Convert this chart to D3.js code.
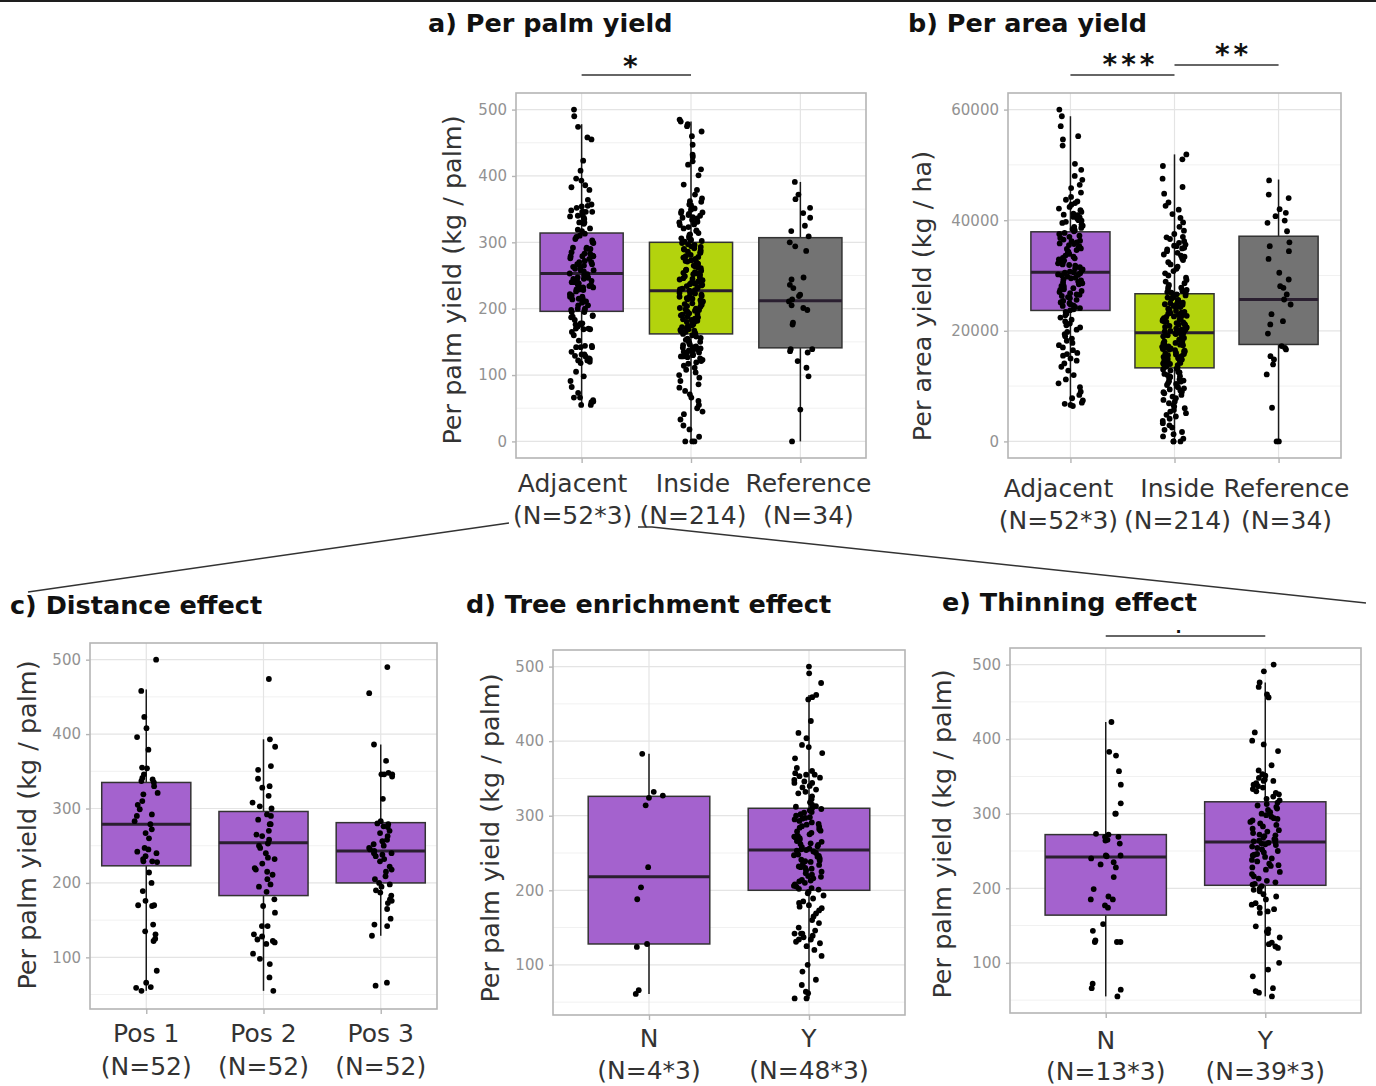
<!DOCTYPE html>
<html>
<head>
<meta charset="utf-8">
<script src="https://cdn.jsdelivr.net/npm/d3@7"></script>
<style>
  html, body { margin: 0; padding: 0; background: #fff; }
  svg { display: block; font-family: "DejaVu Sans", Verdana, sans-serif; }
</style>
</head>
<body>
<script>
// ---------------- DATA ----------------
// Panel c: Adjacent palms split by position (kg / palm)
const pos1 = [500,458,423,408,396,379,355,354,346,341,339,337,335,330,321,319,310,305,299,292,290,283,279,272,267,260,247,245,242,240,236,232,229,229,228,214,200,189,176,170,170,169,144,135,131,125,122,82,66,60,59,55];
const pos2 = [474,393,383,357,352,340,330,328,317,308,303,300,292,290,285,279,279,270,265,263,258,253,250,247,240,234,232,226,220,218,215,211,205,198,195,188,178,169,160,142,142,131,128,124,122,120,118,105,98,91,73,55];
const pos3 = [490,455,386,364,348,346,346,346,343,313,283,280,279,276,275,270,267,263,258,256,252,250,247,245,243,240,240,238,236,232,229,222,218,215,209,205,200,198,195,190,187,183,178,176,173,165,152,144,142,129,66,62];

// Panel a: per palm yield (kg / palm)
const adjacentPalm = pos1.concat(pos2, pos3);
const insidePalm = [485,482,478,475,467,460,447,432,429,422,417,410,401,387,379,372,366,362,361,356,352,349,347,344,343,340,338,337,334,331,330,327,326,323,321,318,317,314,312,311,309,307,306,304,303,302,301,345,351,336,329,341,357,
  299,297,296,293,291,290,288,285,284,281,279,278,275,273,272,270,268,265,264,262,261,259,257,255,254,252,251,249,247,246,244,243,241,239,238,236,234,233,231,230,228,227,226,224,222,221,219,218,216,214,213,211,209,208,206,204,203,201,199,198,196,195,193,191,190,188,187,185,183,182,180,179,177,176,174,172,171,169,168,166,165,163,162,294,286,277,267,258,245,237,229,223,215,207,200,192,184,175,167,289,271,253,235,217,197,181,
  160,158,156,155,153,151,150,148,146,145,143,141,140,139,137,136,134,133,131,130,128,127,125,123,121,119,117,114,111,108,104,100,96,91,86,81,76,71,66,61,55,50,45,41,33,24,18,7,0,0,0,128,135,142];
const referencePalm = [391,372,365,352,344,337,325,317,309,300,294,287,247,244,236,231,221,219,214,211,205,201,198,179,176,139,139,136,134,121,111,98,48,0];

// Panel b: per area yield (kg / ha)
const adjacentArea = [60000,58800,57000,55200,54600,53500,50200,49100,48000,47300,46400,45800,45000,44200,43700,43100,42800,42400,42100,41800,41500,41200,40900,40600,40300,40000,39700,39500,39200,39000,38800,38600,38400,38200,38000,41000,43400,40500,39900,
  37700,37500,37200,37000,36800,36500,36300,36000,35800,35500,35300,35100,34800,34600,34300,34100,33900,33600,33400,33100,32900,32700,32400,32200,32000,31800,31500,31300,31100,30900,30700,30600,30400,30200,30000,29800,29500,29300,29100,28900,28600,28400,28200,27900,27700,27500,27200,27000,26800,26500,26300,26100,25900,25600,25400,25200,25000,24800,24500,24300,24100,23900,23700,36200,34900,33200,31900,30500,29600,28800,27400,26600,25100,24600,35700,32800,30100,28100,
  23400,23100,22800,22400,22000,21700,21300,21000,20600,20200,19800,19400,19000,18600,18200,17800,17400,17000,16500,16000,15500,15000,14600,14100,13500,12800,12000,11200,10500,9800,9000,8400,7800,7400,7000,6800,6600,6400,15800];
const insideArea = [51900,51000,49800,47500,46000,44800,43200,42600,41900,41100,40400,39600,38800,38100,37500,37000,36600,36200,35900,35600,35300,35000,34700,34400,34100,33800,33400,33100,32800,32400,32000,31600,31200,30800,30400,30000,29600,29200,28900,28600,28300,28000,27800,27600,27400,27200,27000,26900,26800,35400,36900,34900,33600,
  26600,26400,26300,26100,26000,25800,25600,25500,25300,25100,25000,24800,24700,24500,24300,24200,24000,23900,23700,23600,23400,23200,23100,22900,22800,22600,22500,22300,22100,22000,21800,21700,21500,21400,21200,21000,20900,20700,20600,20400,20300,20100,20000,19900,19700,19600,19500,19300,19200,19000,18900,18700,18600,18400,18300,18100,18000,17800,17700,17500,17400,17200,17100,16900,16800,16600,16500,16300,16200,16000,15900,15700,15600,15400,15300,15100,15000,14800,14700,14500,14400,14200,14100,13900,13800,13600,13500,13400,25900,24900,23300,22200,21100,20200,19400,18500,17600,16700,15800,14900,14000,22700,19800,16400,21600,
  13200,13000,12800,12600,12400,12200,12000,11800,11600,11400,11200,11000,10800,10600,10400,10200,10000,9800,9600,9400,9200,9000,8700,8400,8100,7800,7500,7200,6900,6600,6300,6000,5700,5400,5100,4800,4500,4100,3700,3300,2900,2500,2100,1700,1300,900,500,0,0,0,8900,10900,12500,11700];
const referenceArea = [47200,44640,44000,42000,41330,40720,39940,39530,38000,36000,35300,34400,33000,30500,29280,28070,27780,26570,25660,24760,23000,21740,21150,19500,17230,16930,16630,15420,14820,13920,12110,6090,0,0];

// Panel d: tree enrichment (kg / palm)
const enrichN = [383,332,327,324,314,231,204,188,128,124,66,61];
const enrichY = [500,491,478,462,459,456,427,411,404,395,392,384,377,364,357,355,355,353,346,344,344,340,335,330,326,322,318,315,313,312,311,348,338,332,351,360,
  309,307,305,304,302,300,298,296,295,293,291,289,288,286,284,282,280,279,277,275,273,271,270,268,266,265,263,261,259,258,256,255,254,253,252,250,248,246,245,243,241,239,238,236,234,232,231,229,227,225,223,221,219,218,216,214,212,210,208,206,205,203,202,201,285,262,247,230,213,297,272,240,
  198,196,193,189,185,183,180,178,176,173,169,165,160,156,150,146,142,142,142,139,134,134,131,129,125,120,112,100,91,80,73,64,62,55,55,137];

// Panel e: thinning (kg / palm)
const thinN = [423,383,378,357,339,314,300,300,273,272,269,269,265,264,260,244,244,243,240,235,232,228,215,199,189,185,185,177,174,152,143,130,128,128,128,72,66,64,55];
const thinY = [500,491,476,470,460,456,409,398,393,384,365,353,351,346,344,344,339,335,333,330,326,323,320,318,348,341,328,337,358,
  315,313,311,309,307,305,302,300,298,296,293,291,289,287,285,283,280,278,276,274,272,270,268,266,265,264,263,262,261,260,258,256,254,252,250,248,246,244,242,240,238,236,233,230,228,225,222,219,216,213,210,208,206,205,294,271,259,245,231,
  203,200,198,196,192,189,185,180,178,174,169,167,149,142,140,134,127,125,122,120,100,91,82,66,62,55,60,172,145];

// Box statistics [lower whisker, Q1, median, Q3, upper whisker]
const statsA = [[55,196,253,314,478],[0,162,227,300,482],[0,141,212,307,391]];
const statsB = [[6400,23680,30600,37900,58800],[0,13300,19640,26700,51900],[0,17530,25660,37100,47350]];
const statsC = [[55,223,279,335,460],[55,183,254,296,393],[129,200,243,281,386]];
const statsD = [[61,128,218,326,383],[55,200,254,310,462]];
const statsE = [[55,164,242,272,423],[55,204,262,316,476]];

// Category names and tick labels
const catsABC = ["Adjacent","Inside","Reference"];
const countsAB = ["(N=52*3)","(N=214)","(N=34)"];
const catsC = ["Pos 1","Pos 2","Pos 3"];
const countsC = ["(N=52)","(N=52)","(N=52)"];
const catsYN = ["N","Y"];
const countsD = ["(N=4*3)","(N=48*3)"];
const countsE = ["(N=13*3)","(N=39*3)"];
const ticksPalm = [0,100,200,300,400,500];
const ticksPalmCDE = [100,200,300,400,500];
const ticksArea = [0,20000,40000,60000];

// ---------------- DRAWING ----------------
const W = 1376, H = 1086;
const PURPLE = "#A462CE", LIME = "#B3D30D", GREY = "#737373";
const svg = d3.select("body").append("svg").attr("width", W).attr("height", H);
svg.append("rect").attr("width", W).attr("height", H).attr("fill", "#fff");
svg.append("rect").attr("x", 0).attr("y", 0).attr("width", W).attr("height", 2).attr("fill", "#1e1e1e");

function hash(i, k) { const s = Math.sin(i * 12.9898 + k * 78.233) * 43758.5453; return s - Math.floor(s); }

function panel(p) {
  const g = svg.append("g");
  const x = d3.scalePoint().domain(p.cats).range([p.x0, p.x1]).padding(p.pad);
  const y = d3.scaleLinear().domain(p.dom).range([p.y1, p.y0]);
  const step = x.step();

  // minor grid
  const minor = [];
  const all = p.ticks.slice();
  const tstep = all[1] - all[0];
  for (let v = all[0] - tstep / 2; v <= p.dom[1]; v += tstep) if (v >= p.dom[0]) minor.push(v);
  g.selectAll(null).data(minor).join("line")
    .attr("x1", p.x0).attr("x2", p.x1).attr("y1", d => y(d)).attr("y2", d => y(d))
    .attr("stroke", "#f1f1f1").attr("stroke-width", 1);
  g.selectAll(null).data(p.ticks).join("line")
    .attr("x1", p.x0).attr("x2", p.x1).attr("y1", d => y(d)).attr("y2", d => y(d))
    .attr("stroke", "#e4e4e4").attr("stroke-width", 1.2);
  g.selectAll(null).data(p.cats).join("line")
    .attr("x1", d => x(d)).attr("x2", d => x(d)).attr("y1", p.y0).attr("y2", p.y1)
    .attr("stroke", "#e4e4e4").attr("stroke-width", 1.2);

  // boxes
  const bw = step * 0.76;
  p.cats.forEach((c, i) => {
    const s = p.stats[i], cx = x(c);
    g.append("line").attr("x1", cx).attr("x2", cx).attr("y1", y(s[4])).attr("y2", y(s[3]))
      .attr("stroke", "#1a1a1a").attr("stroke-width", 1.5);
    g.append("line").attr("x1", cx).attr("x2", cx).attr("y1", y(s[1])).attr("y2", y(s[0]))
      .attr("stroke", "#1a1a1a").attr("stroke-width", 1.5);
    g.append("rect").attr("x", cx - bw / 2).attr("y", y(s[3])).attr("width", bw).attr("height", y(s[1]) - y(s[3]))
      .attr("fill", p.colors[i]).attr("stroke", "#333").attr("stroke-width", 1.5);
    g.append("line").attr("x1", cx - bw / 2).attr("x2", cx + bw / 2).attr("y1", y(s[2])).attr("y2", y(s[2]))
      .attr("stroke", "#2a1f30").attr("stroke-width", 3);
  });

  // jittered points
  p.cats.forEach((c, i) => {
    const jw = step * p.jit;
    g.selectAll(null).data(p.points[i]).join("circle")
      .attr("cx", (d, j) => x(c) + (hash(j, i + p.seed) - 0.5) * 2 * jw)
      .attr("cy", d => y(d))
      .attr("r", 2.9).attr("fill", "#000");
  });

  // border
  g.append("rect").attr("x", p.x0).attr("y", p.y0).attr("width", p.x1 - p.x0).attr("height", p.y1 - p.y0)
    .attr("fill", "none").attr("stroke", "#b5b5b5").attr("stroke-width", 1.6);

  // axes
  const ya = g.append("g").attr("transform", `translate(${p.x0},0)`)
    .call(d3.axisLeft(y).tickValues(p.ticks).tickSize(4).tickPadding(5).tickFormat(d3.format("d")));
  ya.select(".domain").remove();
  ya.selectAll(".tick line").attr("stroke", "#b5b5b5").attr("stroke-width", 1.4);
  ya.selectAll(".tick text").attr("fill", "#929292").style("font-size", "15px").style("font-family", "DejaVu Sans");

  const xa = g.append("g").attr("transform", `translate(0,${p.y1})`)
    .call(d3.axisBottom(x).tickSize(5).tickFormat(""));
  xa.select(".domain").remove();
  xa.selectAll(".tick line").attr("stroke", "#b5b5b5").attr("stroke-width", 1.4);

  // x labels (two lines)
  p.cats.forEach((c, i) => {
    g.append("text").attr("x", x(c) + (p.lx ? p.lx[i] : 0)).attr("y", p.l1).attr("text-anchor", "middle")
      .attr("fill", "#333").style("font-size", "25px").text(c);
    g.append("text").attr("x", x(c) + (p.lx ? p.lx[i] : 0)).attr("y", p.l2).attr("text-anchor", "middle")
      .attr("fill", "#333").style("font-size", "25px").text(p.counts[i]);
  });

  // y title
  g.append("text").attr("transform", `translate(${p.ytx},${p.yty}) rotate(-90)`)
    .attr("text-anchor", "middle").attr("dy", "0.36em").attr("fill", "#333")
    .style("font-size", "25.5px").text(p.ytitle);

  // title
  g.append("text").attr("x", p.tx).attr("y", p.ty).attr("fill", "#111")
    .style("font-size", "25.5px").style("font-weight", "bold").text(p.title);

  // significance brackets
  (p.sig || []).forEach(b => {
    g.append("line").attr("x1", x(b.a)).attr("x2", x(b.b)).attr("y1", b.y).attr("y2", b.y)
      .attr("stroke", "#333").attr("stroke-width", 1.5);
    g.append("text").attr("x", (x(b.a) + x(b.b)) / 2 + (b.dx || 0)).attr("y", b.ty).attr("text-anchor", "middle")
      .attr("fill", "#111").style("font-size", b.fs + "px").style("font-weight", "bold")
      .style("letter-spacing", (b.ls || 0) + "px").text(b.label);
  });
}

panel({ title: "a) Per palm yield", tx: 428, ty: 32,
  x0: 516, x1: 866, y0: 93, y1: 458, dom: [-25, 525], pad: 0.6, jit: 0.11, seed: 1,
  cats: catsABC, counts: countsAB, stats: statsA, colors: [PURPLE, LIME, GREY],
  points: [adjacentPalm, insidePalm, referencePalm], ticks: ticksPalm,
  l1: 492, l2: 524, lx: [-9, 2, 8],
  ytitle: "Per palm yield (kg / palm)", ytx: 452, yty: 280,
  sig: [{ a: "Adjacent", b: "Inside", y: 75, ty: 76, label: "*", fs: 28, dx: -6 }] });

panel({ title: "b) Per area yield", tx: 908, ty: 32,
  x0: 1008, x1: 1341, y0: 93, y1: 458, dom: [-3000, 63000], pad: 0.6, jit: 0.12, seed: 5,
  cats: catsABC, counts: countsAB, stats: statsB, colors: [PURPLE, LIME, GREY],
  points: [adjacentArea, insideArea, referenceArea], ticks: ticksArea,
  l1: 497, l2: 529, lx: [-12, 3, 8],
  ytitle: "Per area yield (kg / ha)", ytx: 922, yty: 296,
  sig: [{ a: "Adjacent", b: "Inside", y: 75, ty: 74, label: "***", fs: 28, ls: 4, dx: 8 },
        { a: "Inside", b: "Reference", y: 65, ty: 64, label: "**", fs: 28, ls: 4, dx: 7 }] });

panel({ title: "c) Distance effect", tx: 10, ty: 614,
  x0: 90, x1: 437, y0: 643, y1: 1009, dom: [30.6, 522.4], pad: 0.48, jit: 0.1, seed: 9,
  cats: catsC, counts: countsC, stats: statsC, colors: [PURPLE, PURPLE, PURPLE],
  points: [pos1, pos2, pos3], ticks: ticksPalmCDE,
  l1: 1042, l2: 1075,
  ytitle: "Per palm yield (kg / palm)", ytx: 27, yty: 825 });

panel({ title: "d) Tree enrichment effect", tx: 466, ty: 613,
  x0: 553, x1: 905, y0: 650, y1: 1015, dom: [32.75, 522.25], pad: 0.6, jit: 0.095, seed: 13,
  cats: catsYN, counts: countsD, stats: statsD, colors: [PURPLE, PURPLE],
  points: [enrichN, enrichY], ticks: ticksPalmCDE,
  l1: 1047, l2: 1079,
  ytitle: "Per palm yield (kg / palm)", ytx: 490, yty: 838 });

panel({ title: "e) Thinning effect", tx: 942, ty: 611,
  x0: 1010, x1: 1361, y0: 648, y1: 1013, dom: [32.75, 522.25], pad: 0.6, jit: 0.095, seed: 17,
  cats: catsYN, counts: countsE, stats: statsE, colors: [PURPLE, PURPLE],
  points: [thinN, thinY], ticks: ticksPalmCDE,
  l1: 1049, l2: 1080,
  ytitle: "Per palm yield (kg / palm)", ytx: 942, yty: 834,
  sig: [{ a: "N", b: "Y", y: 636, ty: 633, label: ".", fs: 16, dx: -7 }] });

// connector lines from the Adjacent group to the detail panels
svg.append("path").attr("d", "M28,592 L509,523").attr("stroke", "#333").attr("stroke-width", 1.5).attr("fill", "none");
svg.append("path").attr("d", "M638,527 L652,527 L1366,603").attr("stroke", "#333").attr("stroke-width", 1.5).attr("fill", "none");
</script>
</body>
</html>
